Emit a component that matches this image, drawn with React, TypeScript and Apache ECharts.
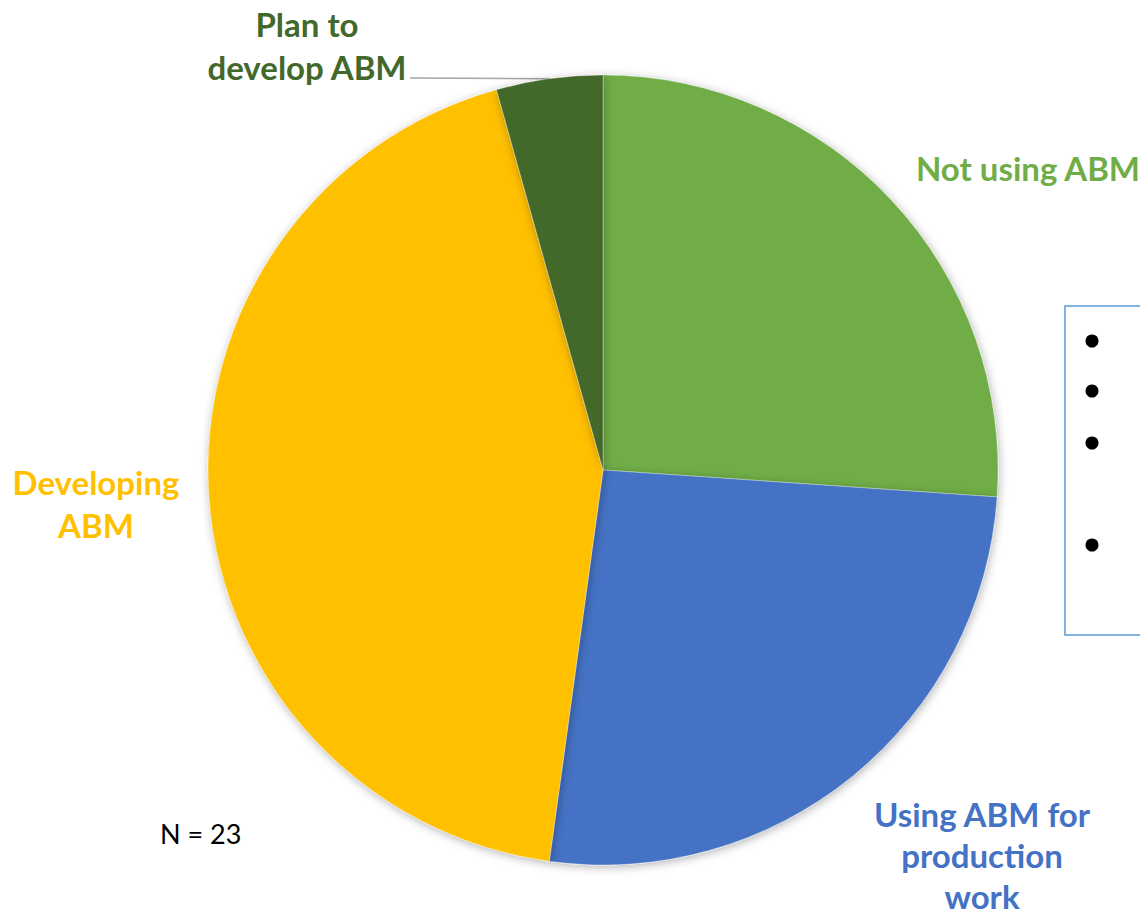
import React, { useEffect, useRef } from "react";
import * as echarts from "echarts";

const categories = ["Not using ABM", "Using ABM for production work", "Developing ABM", "Plan to develop ABM"];
const values = [6, 6, 10, 1];
const colors = ["#70AD47", "#4472C4", "#FFC000", "#43682B"];
const labelLines = [["Not using ABM"], ["Using ABM for", "production", "work"], ["Developing", "ABM"], ["Plan to", "develop ABM"]];
const noteText = "N = 23";

export default function App() {
  const ref = useRef<HTMLDivElement>(null);
  useEffect(() => {
    if (!ref.current) return;
    const chart = echarts.init(ref.current, null, { renderer: "svg" });
    const cx = 603, cy = 470, r = 395;
    const labelPos = [
      { x: 1028, y: 168, lh: 43 },
      { x: 982, y: 855, lh: 41 },
      { x: 96, y: 503, lh: 43 },
      { x: 307, y: 45, lh: 43 },
    ];
    const total = values.reduce((a, b) => a + b, 0);
    let acc = 0;
    const mids: number[] = [];
    values.forEach((v) => {
      mids.push(((acc + v / 2) / total) * 2 * Math.PI);
      acc += v;
    });
    const lastMid = mids[3];
    const lx = cx + r * Math.sin(lastMid);
    const ly = cy - r * Math.cos(lastMid);

    const graphics: any[] = [];
    labelLines.forEach((lines, i) => {
      graphics.push({
        type: "text",
        x: labelPos[i].x,
        y: labelPos[i].y,
        style: {
          text: lines.join("\n"),
          fill: colors[i],
          font: "bold 33px Lato",
          lineHeight: labelPos[i].lh,
          align: "center",
          verticalAlign: "middle",
        },
      });
    });
    graphics.push({
      type: "polyline",
      shape: { points: [[410, 78], [lx, ly]] },
      style: { stroke: "#A6A6A6", lineWidth: 1.5, fill: null },
    });
    graphics.push({
      type: "text",
      x: 160,
      y: 833,
      style: { text: noteText, fill: "#000", font: "27px Lato", align: "left", verticalAlign: "middle" },
    });
    graphics.push({
      type: "rect",
      shape: { x: 1065, y: 306, width: 120, height: 329 },
      style: { fill: "#fff", stroke: "#5B9BD5", lineWidth: 1.5 },
    });
    [341, 391, 443, 545].forEach((by) => {
      graphics.push({ type: "circle", shape: { cx: 1092, cy: by, r: 6.5 }, style: { fill: "#000" } });
    });

    chart.setOption({
      animation: false,
      backgroundColor: "#fff",
      graphic: graphics,
      series: [
        {
          type: "pie",
          center: [cx, cy],
          radius: r,
          startAngle: 90,
          clockwise: true,
          label: { show: false },
          labelLine: { show: false },
          emphasis: { disabled: true },
          itemStyle: {
            borderColor: "rgba(255,255,255,0.5)",
            borderWidth: 0.6,
            shadowBlur: 10,
            shadowColor: "rgba(0,0,0,0.3)",
            shadowOffsetX: 1,
            shadowOffsetY: 2,
          },
          data: categories.map((c, i) => ({ name: c, value: values[i], itemStyle: { color: colors[i] } })),
        },
      ],
    });
    return () => chart.dispose();
  }, []);
  return <div ref={ref} style={{ position: "fixed", left: 0, top: 0, width: 1140, height: 919 }} />;
}
